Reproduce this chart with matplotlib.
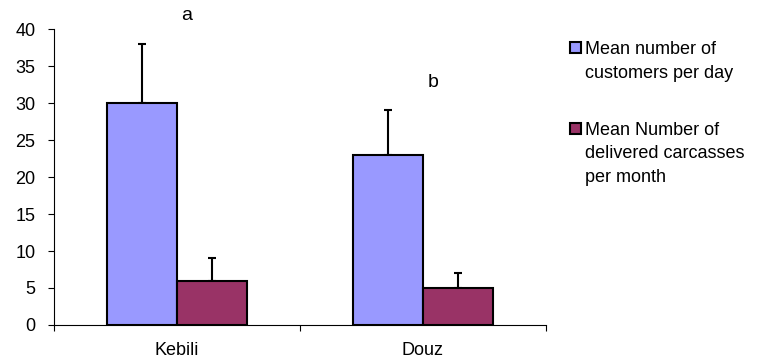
import numpy as np
import matplotlib.pyplot as plt
from matplotlib.patches import Rectangle

plt.rcParams['font.family'] = ['Liberation Sans', 'DejaVu Sans']

# data
regions = ['Kebili', 'Douz']
series = ['Mean number of\ncustomers per day',
          'Mean Number of\ndelivered carcasses\nper month']
customers = [30, 23]
customers_err = [8, 6]
carcasses = [6, 5]
carcasses_err = [3, 2]
letters = ['a', 'b']
letter_y = [41.8, 32.8]

colors = ['#9999FF', '#993366']

fig = plt.figure(figsize=(7.74, 3.63), dpi=100)
ax = fig.add_axes([0.0698, 0.1047, 0.7054 - 0.0698, 0.920 - 0.1047])

x = np.arange(len(regions))
w = 0.285
for vals, errs, col, off in [(customers, customers_err, colors[0], -w / 2),
                             (carcasses, carcasses_err, colors[1], w / 2)]:
    ax.bar(x + off, vals, w, color=col, edgecolor='black', linewidth=1.5, zorder=2)
    ax.errorbar(x + off, vals, yerr=[np.zeros(len(errs)), errs], fmt='none',
                ecolor='black', elinewidth=1.5, capsize=3, capthick=1.5, zorder=1)

for xi, lab, ly in zip(x, letters, letter_y):
    ax.text(xi + 0.04, ly, lab, ha='center', va='center', fontsize=14, clip_on=False)

ax.set_xlim(-0.5, 1.5)
ax.set_ylim(0, 40)
ax.set_yticks(np.arange(0, 41, 5))
ax.set_xticks(x)
ax.set_xticklabels(regions)
ax.set_xticks([-0.5, 0.5, 1.5], minor=True)
ax.tick_params(axis='x', which='major', length=0, pad=12, labelsize=13)
ax.tick_params(axis='x', which='minor', length=4.5, width=0.8, direction='out')
ax.tick_params(axis='y', length=4.5, width=0.8, pad=9, labelsize=13)
for s in ['top', 'right']:
    ax.spines[s].set_visible(False)
for s in ['left', 'bottom']:
    ax.spines[s].set_linewidth(0.8)

# legend drawn by hand so the marker sits on the first line
leg_y = [0.881, 0.658]
for lab, col, ly in zip(series, colors, leg_y):
    fig.add_artist(Rectangle((0.7365, ly - 0.028), 0.0145, 0.031, transform=fig.transFigure,
                             facecolor=col, edgecolor='black', linewidth=1.5))
    fig.text(0.7555, ly + 0.006, lab, ha='left', va='top', fontsize=13, linespacing=1.5)

fig.savefig('out.png', dpi=100)
